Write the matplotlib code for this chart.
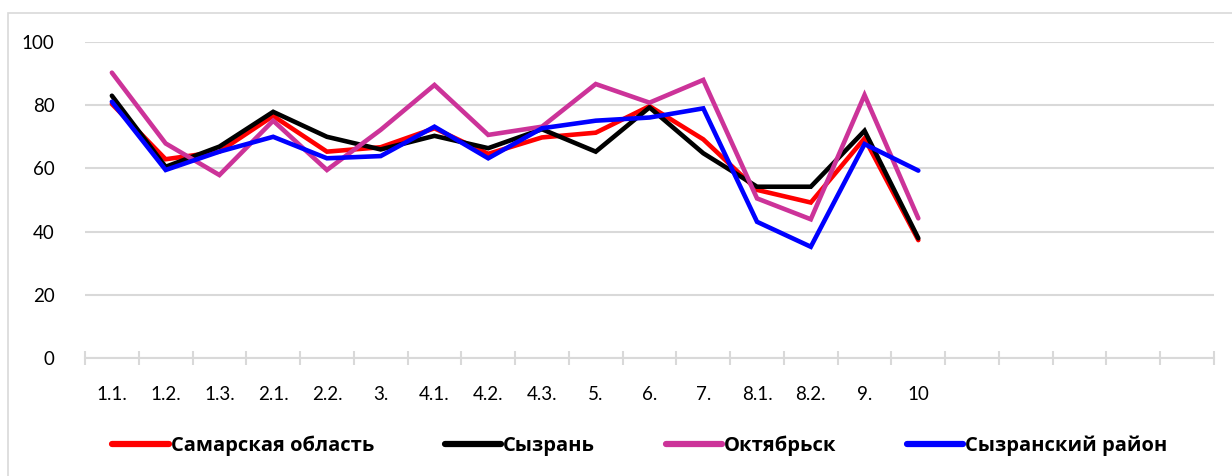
import matplotlib
matplotlib.use("Agg")
import matplotlib.pyplot as plt
from matplotlib.patches import Rectangle
import numpy as np

plt.rcParams['font.family'] = ['Lato', 'DejaVu Sans']

categories = ['1.1.', '1.2.', '1.3.', '2.1.', '2.2.', '3.', '4.1.', '4.2.',
              '4.3.', '5.', '6.', '7.', '8.1.', '8.2.', '9.', '10']
n_slots = 21  # empty categories follow the data on the axis

samara = [80.4, 62.9, 65.3, 76.6, 65.3, 66.7, 72.7, 64.6,
          69.8, 71.3, 79.7, 69.2, 53.2, 49.2, 69.5, 37.3]
syzran = [83.0, 60.5, 66.9, 77.9, 70.0, 66.0, 70.3, 66.4,
          72.4, 65.3, 79.3, 64.8, 54.2, 54.2, 71.9, 37.9]
oktyabrsk = [90.3, 67.9, 57.9, 75.1, 59.5, 72.2, 86.4, 70.6,
             73.2, 86.7, 80.8, 88.0, 50.5, 43.9, 83.2, 44.2]
syzran_rayon = [81.1, 59.5, 65.3, 70.0, 63.2, 63.9, 73.2, 63.2,
                72.7, 75.1, 76.1, 79.0, 43.1, 35.2, 67.7, 59.3]

series = [
    ('Самарская область', samara, '#ff0000'),
    ('Сызрань', syzran, '#000000'),
    ('Октябрьск', oktyabrsk, '#cc3399'),
    ('Сызранский район', syzran_rayon, '#0000ff'),
]

W, H = 1232, 476
fig = plt.figure(figsize=(W / 100, H / 100), dpi=100)
ax = fig.add_axes([85 / W, 1 - 358 / H, (1214 - 85) / W, (358 - 42) / H])

x = np.arange(len(categories))
for name, vals, col in series:
    ax.plot(x, vals, color=col, lw=3.3, label=name,
            solid_joinstyle='miter', solid_capstyle='round')

ax.set_xlim(-0.5, n_slots - 0.5)
ax.set_ylim(0, 100)
ax.set_yticks(range(0, 101, 20))
ax.yaxis.grid(True, color='#d9d9d9', lw=1.5)
ax.set_axisbelow(True)
for s in ['top', 'right', 'left']:
    ax.spines[s].set_visible(False)
ax.spines['bottom'].set_color('#d9d9d9')
ax.spines['bottom'].set_linewidth(1.5)

ax.set_xticks(np.arange(n_slots + 1) - 0.5)
ax.set_xticklabels([])
ax.tick_params(axis='x', which='major', direction='inout', length=10,
               width=1.5, color='#d9d9d9')
ax.set_xticks(x, minor=True)
ax.set_xticklabels(categories, minor=True, fontsize=13.5)
ax.tick_params(axis='x', which='minor', length=0, pad=20)
ax.tick_params(axis='y', length=0, labelsize=13.5, pad=22)

leg = fig.legend(loc='center', bbox_to_anchor=(640 / W, 1 - 446 / H), ncol=4,
                 frameon=False, handlelength=2.8, handletextpad=0.1,
                 columnspacing=3.5,
                 prop={'family': ['Open Sans', 'DejaVu Sans'],
                       'size': 14.5, 'weight': 'bold'})
for line in leg.get_lines():
    line.set_linewidth(4.5)
    line.set_solid_capstyle('round')

fig.patches.append(Rectangle((8 / W, -0.1), 1.2, 1 - 13 / H + 0.1,
                             transform=fig.transFigure, fill=False,
                             edgecolor='#d9d9d9', lw=1.2))

fig.savefig('out.png', dpi=100)
